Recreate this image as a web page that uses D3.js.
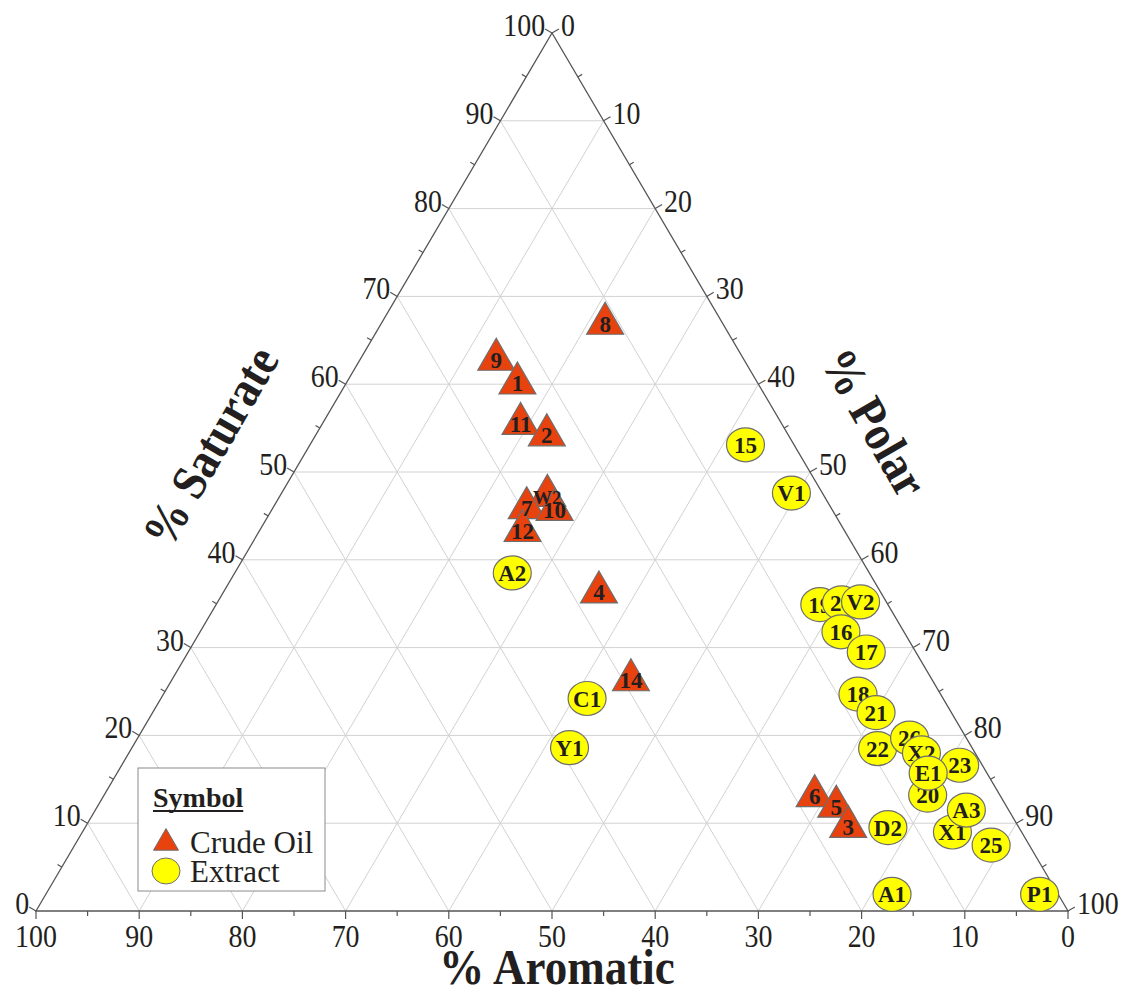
<!DOCTYPE html>
<html lang="en">
<head>
  <meta charset="UTF-8">
  <title>Ternary SARA plot</title>
  <script src="https://d3js.org/d3.v7.min.js"></script>
  <style>
    body { margin: 0; background: #fff; }
    text { font-family: "Liberation Serif", "Times New Roman", serif; fill: #231f20; }
  </style>
</head>
<body>
  <div id="chart"></div>
  <script>
    // crude oil samples (%)
    const crudeLabels = ["8", "9", "1", "11", "2", "W2", "7", "10", "12", "4", "14", "6", "5", "3"];
    const crudeSat = [66.9, 62.8, 60.1, 55.5, 54.2, 47.3, 45.9, 45.7, 43.3, 36.3, 26.3, 13.1, 11.9, 9.6];
    const crudeAro = [11.4, 24.0, 23.3, 25.3, 23.4, 26.8, 29.5, 26.9, 31.2, 27.3, 29.2, 18.0, 16.5, 16.5];
    const crudePol = [21.7, 13.2, 16.6, 19.2, 22.4, 25.9, 24.6, 27.4, 25.5, 36.4, 44.5, 68.9, 71.6, 73.9];

    // extracts (%)
    const extLabels = ["15", "V1", "A2", "C1", "Y1", "19", "24", "V2", "16", "17", "18", "21", "22", "26", "X2", "20", "23", "E1", "X1", "A3", "D2", "25", "A1", "P1"];
    const extSat = [53.1, 47.6, 38.5, 24.2, 18.6, 34.9, 35.1, 35.2, 31.8, 29.5, 24.7, 22.6, 18.5, 19.7, 18.0, 13.2, 16.6, 15.7, 9.0, 11.5, 9.5, 7.5, 1.9, 1.9];
    const extAro = [4.7, 3.0, 34.6, 34.5, 39.0, 6.6, 4.4, 2.5, 6.1, 4.8, 8.0, 7.3, 9.2, 5.5, 5.2, 7.0, 2.2, 5.7, 6.7, 4.1, 12.7, 3.7, 16.1, 1.8];
    const extPol = [42.2, 49.4, 26.9, 41.3, 42.4, 58.5, 60.5, 62.3, 62.1, 65.7, 67.3, 70.1, 72.3, 74.8, 76.8, 79.8, 81.2, 78.6, 84.3, 84.4, 77.8, 88.8, 82.0, 96.3];

    const gridValues = [10, 20, 30, 40, 50, 60, 70, 80, 90];
    const majorTicks = [0, 10, 20, 30, 40, 50, 60, 70, 80, 90, 100];
    const minorTicks = [5, 15, 25, 35, 45, 55, 65, 75, 85, 95];

    const W = 1126, H = 998;
    const svg = d3.select("#chart").append("svg").attr("width", W).attr("height", H);

    // x carries polar + saturate/2, y carries saturate
    const xScale = d3.scaleLinear().domain([0, 100]).range([36, 1068]);
    const yScale = d3.scaleLinear().domain([0, 100]).range([911, 33]);

    function proj(s, a, p) {
      const t = s + a + p;
      s = s / t * 100; p = p / t * 100;
      return [xScale(p + s / 2), yScale(s)];
    }

    const line = d3.line();

    //grid lines
    const grid = svg.append("g").attr("stroke", "#d2d2d2").attr("stroke-width", 1).attr("fill", "none");
    gridValues.forEach(v => {
      grid.append("path").attr("d", line([proj(v, 100 - v, 0), proj(v, 0, 100 - v)]));
      grid.append("path").attr("d", line([proj(0, v, 100 - v), proj(100 - v, v, 0)]));
      grid.append("path").attr("d", line([proj(0, 100 - v, v), proj(100 - v, 0, v)]));
    });

    //frame
    const BL = proj(0, 100, 0), TOP = proj(100, 0, 0), BR = proj(0, 0, 100);
    svg.append("path")
      .attr("d", line([BL, TOP, BR]) + "Z")
      .attr("fill", "none").attr("stroke", "#555").attr("stroke-width", 1.3);

    function outward(p0, p1) {
      const dx = p1[0] - p0[0], dy = p1[1] - p0[1];
      const n = Math.hypot(dx, dy);
      return [dy / n, -dx / n];
    }

    function label(x, y, txt, size, anchor, rot, sx, bold) {
      svg.append("text")
        .attr("transform", `translate(${x},${y}) rotate(${rot}) scale(${sx},1)`)
        .attr("text-anchor", anchor)
        .attr("font-size", size)
        .attr("font-weight", bold ? "bold" : "normal")
        .text(txt);
    }

    // axes: saturate on the left edge, polar on the right, aromatic on the bottom
    const axes = [
      { pos: v => proj(v, 100 - v, 0), n: outward(BL, TOP), anchor: "end", dx: 0, dy: 7 },
      { pos: v => proj(100 - v, 0, v), n: outward(TOP, BR), anchor: "start", dx: 2, dy: 7 },
      { pos: v => proj(0, v, 100 - v), n: outward(BR, BL), anchor: "middle", dx: 0, dy: 28 }
    ];
    const ticks = svg.append("g").attr("stroke", "#555").attr("stroke-width", 1.2);
    axes.forEach(ax => {
      majorTicks.forEach(v => {
        const p = ax.pos(v);
        const e = [p[0] + ax.n[0] * 8, p[1] + ax.n[1] * 8];
        ticks.append("line").attr("x1", p[0]).attr("y1", p[1]).attr("x2", e[0]).attr("y2", e[1]);
        label(e[0] + ax.dx, e[1] + ax.dy, v, 31, ax.anchor, 0, 0.9, false);
      });
      minorTicks.forEach(v => {
        const p = ax.pos(v);
        ticks.append("line").attr("x1", p[0]).attr("y1", p[1])
          .attr("x2", p[0] + ax.n[0] * 5).attr("y2", p[1] + ax.n[1] * 5);
      });
    });

    //axis titles
    label(557, 984, "% Aromatic", 50, "middle", 0, 0.9, true);
    label(225, 455, "% Saturate", 50, "middle", -60, 0.9, true);
    label(860, 431, "% Polar", 50, "middle", 60, 0.9, true);

    //crude oil triangles, labels drawn above all of them
    const tri = d3.symbol(d3.symbolTriangle, 590);
    const crude = crudeLabels.map((l, i) => ({ l, xy: proj(crudeSat[i], crudeAro[i], crudePol[i]) }));
    svg.selectAll(".crude").data(crude).enter().append("path")
      .attr("class", "crude")
      .attr("transform", d => `translate(${d.xy[0]},${d.xy[1]})`)
      .attr("d", tri).attr("fill", "#e8420e").attr("stroke", "#6e6e6e").attr("stroke-width", 1.2);
    svg.selectAll(".crude-label").data(crude).enter().append("text")
      .attr("class", "crude-label")
      .attr("x", d => d.xy[0]).attr("y", d => d.xy[1] + 8)
      .attr("text-anchor", "middle")
      .attr("font-size", d => d.l.length > 1 && isNaN(d.l) ? 19 : 23)
      .attr("font-weight", "bold").text(d => d.l);

    //extract circles
    const ext = extLabels.map((l, i) => ({ l, xy: proj(extSat[i], extAro[i], extPol[i]) }));
    const eg = svg.selectAll(".ext").data(ext).enter().append("g")
      .attr("transform", d => `translate(${d.xy[0]},${d.xy[1]})`);
    eg.append("ellipse").attr("rx", 19).attr("ry", 17).attr("fill", "#ffff00").attr("stroke", "#6e6e6e").attr("stroke-width", 1.2);
    eg.append("text").attr("text-anchor", "middle").attr("y", 8).attr("font-size", 23)
      .attr("font-weight", "bold").text(d => d.l);

    //legend
    const lg = svg.append("g");
    lg.append("rect").attr("x", 138).attr("y", 768).attr("width", 187).attr("height", 123)
      .attr("fill", "#fff").attr("stroke", "#8a8a8a").attr("stroke-width", 1);
    const st = lg.append("text").attr("x", 153).attr("y", 807).attr("font-size", 28)
      .attr("font-weight", "bold").text("Symbol");
    const sw = st.node().getComputedTextLength();
    lg.append("line").attr("x1", 153).attr("x2", 153 + sw).attr("y1", 811).attr("y2", 811)
      .attr("stroke", "#231f20").attr("stroke-width", 2);
    lg.append("path").attr("d", d3.symbol(d3.symbolTriangle, 270)).attr("transform", "translate(166,843)")
      .attr("fill", "#e8420e").attr("stroke", "#6e6e6e");
    lg.append("ellipse").attr("cx", 166).attr("cy", 871).attr("rx", 14).attr("ry", 13)
      .attr("fill", "#ffff00").attr("stroke", "#6e6e6e");
    lg.append("text").attr("x", 190).attr("y", 853).attr("font-size", 31).text("Crude Oil");
    lg.append("text").attr("x", 190).attr("y", 882).attr("font-size", 31).text("Extract");
  </script>
</body>
</html>
